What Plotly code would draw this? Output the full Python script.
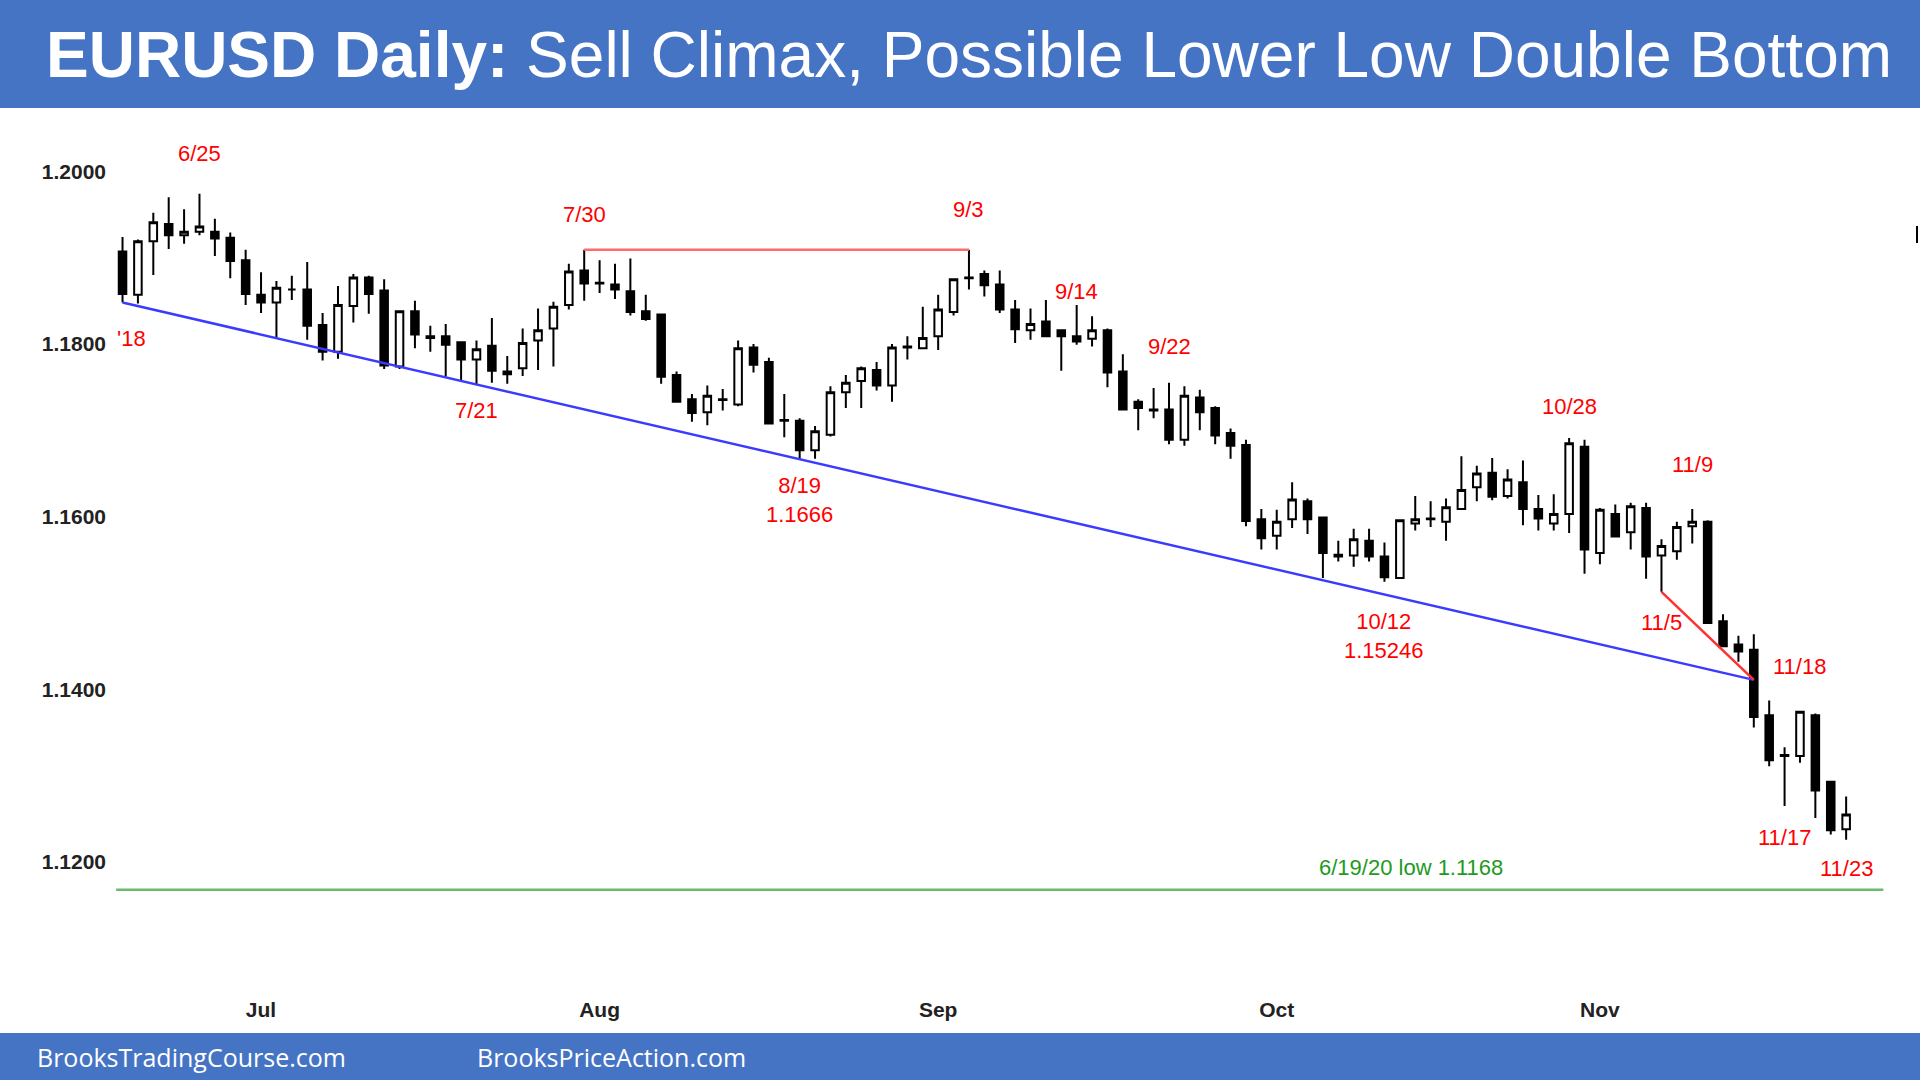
import pandas as pd
import plotly.graph_objects as go

# --- daily EURUSD bars, 6/18/2021 .. 11/23/2021 ---
dates = pd.bdate_range("2021-06-18", "2021-11-23")

opens = [
    1.1907, 1.1857, 1.1919, 1.1939, 1.1926, 1.1930, 1.1930, 1.1923, 1.1897, 1.1857,
    1.1848, 1.1863, 1.1863, 1.1822, 1.1791, 1.1844, 1.1877, 1.1862, 1.1774, 1.1838,
    1.1809, 1.1809, 1.1802, 1.1782, 1.1798, 1.1765, 1.1772, 1.1804, 1.1818, 1.1845,
    1.1885, 1.1871, 1.1869, 1.1861, 1.1838, 1.1834, 1.1764, 1.1736, 1.1721, 1.1735,
    1.1730, 1.1796, 1.1779, 1.1712, 1.1711, 1.1677, 1.1695, 1.1744, 1.1757, 1.1770,
    1.1752, 1.1796, 1.1795, 1.1809, 1.1837, 1.1876, 1.1881, 1.1869, 1.1840, 1.1816,
    1.1826, 1.1816, 1.1809, 1.1806, 1.1816, 1.1768, 1.1733, 1.1724, 1.1724, 1.1689,
    1.1738, 1.1726, 1.1697, 1.1683, 1.1597, 1.1578, 1.1597, 1.1618, 1.1599, 1.1556,
    1.1555, 1.1572, 1.1554, 1.1529, 1.1592, 1.1597, 1.1594, 1.1609, 1.1634, 1.1651,
    1.1624, 1.1640, 1.1609, 1.1592, 1.1603, 1.1681, 1.1558, 1.1603, 1.1582, 1.1610,
    1.1555, 1.1560, 1.1589, 1.1594, 1.1479, 1.1452, 1.1446, 1.1370, 1.1323, 1.1323,
    1.1370, 1.1293, 1.1238,
]
highs = [
    1.1924, 1.1921, 1.1952, 1.1970, 1.1956, 1.1974, 1.1945, 1.1929, 1.1909, 1.1883,
    1.1873, 1.1879, 1.1895, 1.1836, 1.1867, 1.1881, 1.1879, 1.1875, 1.1838, 1.1850,
    1.1821, 1.1823, 1.1803, 1.1804, 1.1830, 1.1786, 1.1818, 1.1841, 1.1849, 1.1893,
    1.1909, 1.1897, 1.1893, 1.1899, 1.1857, 1.1835, 1.1768, 1.1742, 1.1752, 1.1748,
    1.1804, 1.1800, 1.1784, 1.1742, 1.1714, 1.1705, 1.1751, 1.1764, 1.1774, 1.1779,
    1.1800, 1.1809, 1.1843, 1.1857, 1.1876, 1.1909, 1.1885, 1.1885, 1.1851, 1.1841,
    1.1851, 1.1817, 1.1845, 1.1832, 1.1818, 1.1788, 1.1736, 1.1749, 1.1755, 1.1751,
    1.1747, 1.1728, 1.1702, 1.1689, 1.1609, 1.1608, 1.1640, 1.1621, 1.1599, 1.1572,
    1.1586, 1.1586, 1.1570, 1.1597, 1.1624, 1.1618, 1.1621, 1.1670, 1.1659, 1.1668,
    1.1655, 1.1665, 1.1625, 1.1626, 1.1691, 1.1689, 1.1610, 1.1614, 1.1616, 1.1616,
    1.1574, 1.1594, 1.1609, 1.1596, 1.1487, 1.1462, 1.1464, 1.1387, 1.1333, 1.1375,
    1.1372, 1.1293, 1.1276,
]
lows = [
    1.1848, 1.1847, 1.1880, 1.1910, 1.1916, 1.1926, 1.1902, 1.1876, 1.1845, 1.1836,
    1.1807, 1.1851, 1.1805, 1.1781, 1.1783, 1.1825, 1.1835, 1.1771, 1.1771, 1.1795,
    1.1791, 1.1762, 1.1757, 1.1753, 1.1755, 1.1754, 1.1763, 1.1770, 1.1774, 1.1840,
    1.1850, 1.1859, 1.1852, 1.1833, 1.1827, 1.1754, 1.1732, 1.1710, 1.1706, 1.1723,
    1.1728, 1.1767, 1.1708, 1.1692, 1.1666, 1.1667, 1.1693, 1.1726, 1.1726, 1.1746,
    1.1733, 1.1782, 1.1794, 1.1793, 1.1833, 1.1863, 1.1855, 1.1836, 1.1801, 1.1805,
    1.1809, 1.1769, 1.1799, 1.1797, 1.1750, 1.1724, 1.1700, 1.1714, 1.1684, 1.1682,
    1.1700, 1.1684, 1.1667, 1.1589, 1.1562, 1.1562, 1.1587, 1.1580, 1.1529, 1.1548,
    1.1542, 1.1548, 1.15246, 1.1528, 1.1584, 1.1588, 1.1572, 1.1608, 1.1618, 1.1619,
    1.1621, 1.1590, 1.1584, 1.1584, 1.1581, 1.1534, 1.1545, 1.1576, 1.1562, 1.1528,
    1.1513, 1.1550, 1.1569, 1.1476, 1.1450, 1.1432, 1.1356, 1.1311, 1.1265, 1.1315,
    1.1251, 1.1232, 1.1226,
]
closes = [
    1.1858, 1.1919, 1.1941, 1.1926, 1.1930, 1.1936, 1.1922, 1.1896, 1.1858, 1.1848,
    1.1865, 1.1863, 1.1821, 1.1791, 1.1845, 1.1877, 1.1858, 1.1775, 1.1838, 1.1811,
    1.1807, 1.1799, 1.1782, 1.1794, 1.1769, 1.1768, 1.1801, 1.1816, 1.1843, 1.1884,
    1.1870, 1.1870, 1.1863, 1.1837, 1.1829, 1.1762, 1.1733, 1.1720, 1.1740, 1.1736,
    1.1795, 1.1776, 1.1708, 1.1711, 1.1677, 1.1699, 1.1744, 1.1755, 1.1772, 1.1752,
    1.1796, 1.1797, 1.1807, 1.1840, 1.1875, 1.1877, 1.1868, 1.1840, 1.1817, 1.1823,
    1.1809, 1.1809, 1.1803, 1.1816, 1.1767, 1.1724, 1.1726, 1.1723, 1.1689, 1.1740,
    1.1721, 1.1694, 1.1682, 1.1595, 1.1575, 1.1594, 1.1620, 1.1597, 1.1558, 1.1554,
    1.1574, 1.1554, 1.1530, 1.1596, 1.1597, 1.1598, 1.1611, 1.1631, 1.1650, 1.1623,
    1.1643, 1.1609, 1.1598, 1.1603, 1.1685, 1.1562, 1.1608, 1.1577, 1.1612, 1.1554,
    1.1566, 1.1588, 1.1594, 1.1477, 1.1450, 1.1444, 1.1368, 1.1318, 1.1324, 1.1374,
    1.1283, 1.1237, 1.1255,
]

# drawn lines
trend_x = ["2021-06-18", "2021-11-15"]
trend_y = [1.1848, 1.1411]
top_x = ["2021-07-30", "2021-09-03"]
top_y = [1.1909, 1.1909]
wedge_x = ["2021-11-05", "2021-11-15"]
wedge_y = [1.1513, 1.1411]
low_x = ["2021-06-17 14:00", "2021-11-25 10:00"]
low_y = [1.1168, 1.1168]

# axis ticks
y_ticks = [1.12, 1.14, 1.16, 1.18, 1.20]
month_dates = ["2021-07-01", "2021-08-02", "2021-09-01", "2021-10-01", "2021-11-01"]
month_labels = ["Jul", "Aug", "Sep", "Oct", "Nov"]

# red date labels: (text, date, price)
labels = [
    ("6/25", "2021-06-25", 1.2021),
    ("7/21", "2021-07-21", 1.1723),
    ("7/30", "2021-07-30", 1.1950),
    ("8/19<br>1.1666", "2021-08-19", 1.1619),
    ("9/3", "2021-09-03", 1.1956),
    ("9/14", "2021-09-14", 1.1861),
    ("9/22", "2021-09-22", 1.1797),
    ("10/12<br>1.15246", "2021-10-12", 1.1462),
    ("10/28", "2021-10-28", 1.1728),
    ("11/5", "2021-11-05", 1.1478),
    ("11/9", "2021-11-09", 1.1661),
    ("11/18", "2021-11-18", 1.1427),
    ("11/17", "2021-11-17", 1.1228),
    ("11/23", "2021-11-23", 1.1193),
]

W, H = 1920, 1080
PL, PR, PT, PB = 115, 1890, 116, 983
BLUE = "#4674C4"
RED = "#FF0000"
FONT = "Liberation Sans, Arial, sans-serif"


def px_x(p):
    return (p - PL) / (PR - PL)


def px_y(p):
    return (PB - p) / (PB - PT)


fig = go.Figure()

# lines first so candles sit on top
fig.add_trace(go.Scatter(x=trend_x, y=trend_y, mode="lines",
                         line=dict(color="#3B3BFF", width=2.5), hoverinfo="skip"))
fig.add_trace(go.Scatter(x=top_x, y=top_y, mode="lines",
                         line=dict(color="#FF6B6B", width=2.5), hoverinfo="skip"))
fig.add_trace(go.Scatter(x=wedge_x, y=wedge_y, mode="lines",
                         line=dict(color="#FF3030", width=2.5), hoverinfo="skip"))
fig.add_trace(go.Scatter(x=low_x, y=low_y, mode="lines",
                         line=dict(color="#6DBB6D", width=2.5), hoverinfo="skip"))

fig.add_trace(go.Candlestick(
    x=dates, open=opens, high=highs, low=lows, close=closes,
    increasing=dict(line=dict(color="black", width=2), fillcolor="white"),
    decreasing=dict(line=dict(color="black", width=2), fillcolor="black"),
    whiskerwidth=0,
))

for text, d, p in labels:
    fig.add_annotation(x=d, y=p, text=text, showarrow=False,
                       font=dict(family=FONT, size=22, color=RED),
                       xanchor="center", yanchor="middle")

# clipped label at the left edge
fig.add_annotation(xref="paper", x=0.0, y=1.1806, text="'18", showarrow=False,
                   font=dict(family=FONT, size=22, color=RED),
                   xanchor="left", yanchor="middle")

fig.add_annotation(x="2021-10-14", xshift=-4, y=1.1194, text="6/19/20 low 1.1168",
                   showarrow=False, font=dict(family=FONT, size=22, color="#1E9A1E"),
                   xanchor="center", yanchor="middle")

# title and footer bars
fig.add_shape(type="rect", xref="paper", yref="paper",
              x0=px_x(0), x1=px_x(W), y0=px_y(108), y1=px_y(0),
              fillcolor=BLUE, line=dict(width=0), layer="below")
fig.add_shape(type="rect", xref="paper", yref="paper",
              x0=px_x(0), x1=px_x(W), y0=px_y(W), y1=px_y(1033),
              fillcolor=BLUE, line=dict(width=0), layer="below")
# small cut-off mark at the right edge
fig.add_shape(type="line", xref="paper", yref="paper",
              x0=px_x(1917), x1=px_x(1917), y0=px_y(226), y1=px_y(243),
              line=dict(color="black", width=2))

fig.add_annotation(xref="paper", yref="paper", x=px_x(969), y=px_y(55),
                   text="<b>EURUSD Daily:</b> Sell Climax, Possible Lower Low Double Bottom",
                   showarrow=False, xanchor="center", yanchor="middle",
                   font=dict(family=FONT, size=64, color="white"))
fig.add_annotation(xref="paper", yref="paper", x=px_x(35), y=px_y(1057),
                   text="BrooksTradingCourse.com", showarrow=False,
                   xanchor="left", yanchor="middle",
                   font=dict(family="Open Sans, sans-serif", size=25, color="white"))
fig.add_annotation(xref="paper", yref="paper", x=px_x(475), y=px_y(1057),
                   text="BrooksPriceAction.com", showarrow=False,
                   xanchor="left", yanchor="middle",
                   font=dict(family="Open Sans, sans-serif", size=25, color="white"))

fig.update_layout(
    width=W, height=H,
    margin=dict(l=PL, r=W - PR, t=PT, b=H - PB),
    paper_bgcolor="white", plot_bgcolor="white",
    showlegend=False,
    xaxis=dict(
        type="date",
        rangebreaks=[dict(bounds=["sat", "mon"])],
        range=["2021-06-17 12:15", "2021-11-25 20:24"],
        rangeslider=dict(visible=False),
        tickvals=month_dates, ticktext=month_labels,
        showgrid=False, zeroline=False, showline=False, ticks="",
        ticklabelstandoff=12,
        tickfont=dict(family=FONT, size=21, color="#222222", weight="bold"),
    ),
    yaxis=dict(
        range=[1.1060, 1.2064],
        tickvals=y_ticks, tickformat=".4f",
        showgrid=False, zeroline=False, showline=False, ticks="",
        ticklabelstandoff=8,
        tickfont=dict(family=FONT, size=21, color="#222222", weight="bold"),
    ),
)

# drop the browser's default body margin so the figure fills the window
fig.write_html("out.html", config={"displayModeBar": False},
               post_script="document.body.style.margin='0';document.body.style.overflow='hidden';")
